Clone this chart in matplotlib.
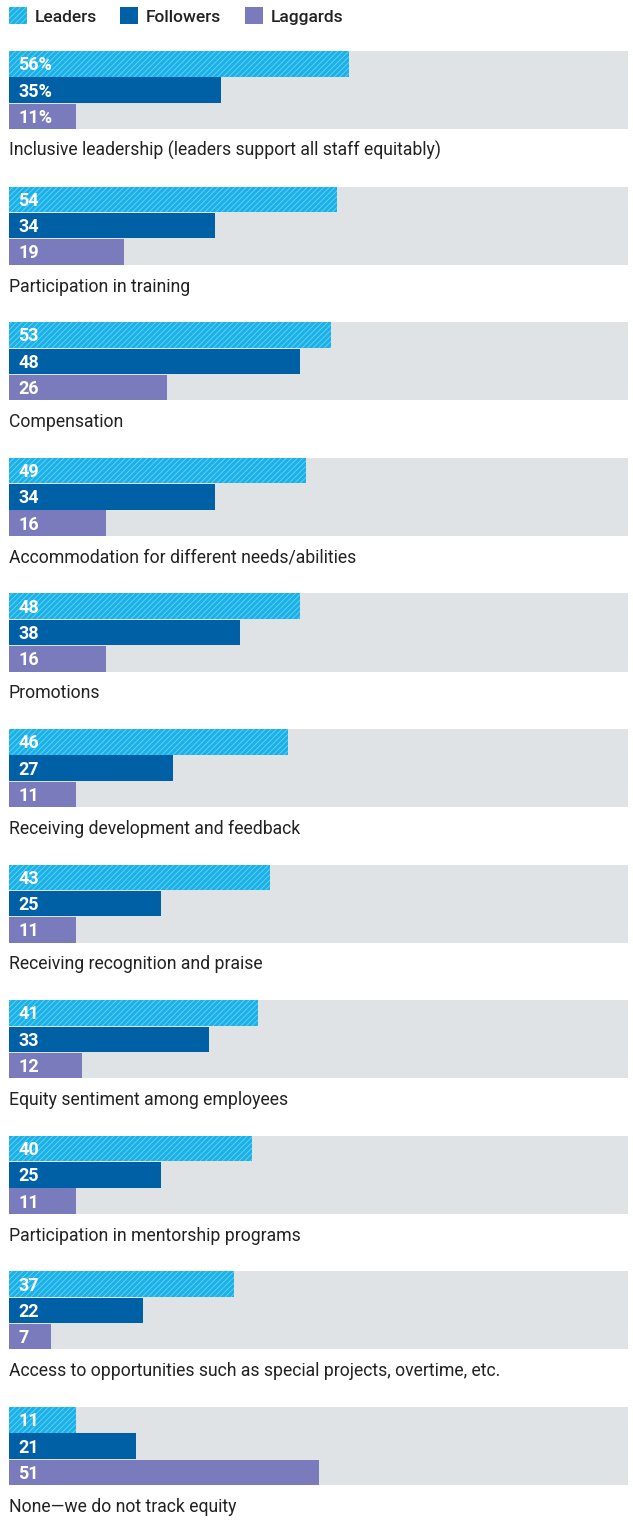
import matplotlib.pyplot as plt
from matplotlib.patches import Rectangle

categories = [
    "Inclusive leadership (leaders support all staff equitably)",
    "Participation in training",
    "Compensation",
    "Accommodation for different needs/abilities",
    "Promotions",
    "Receiving development and feedback",
    "Receiving recognition and praise",
    "Equity sentiment among employees",
    "Participation in mentorship programs",
    "Access to opportunities such as special projects, overtime, etc.",
    "None\u2014we do not track equity",
]
leaders = [56, 54, 53, 49, 48, 46, 43, 41, 40, 37, 11]
followers = [35, 34, 48, 34, 38, 27, 25, 33, 25, 22, 21]
laggards = [11, 19, 26, 16, 16, 11, 11, 12, 11, 7, 51]
series_names = ["Leaders", "Followers", "Laggards"]

c_lead = "#19b2e8"
c_hatch = "#6fd0f3"
c_follow = "#0060a6"
c_lag = "#7a7bbd"
c_bg = "#dfe3e6"

plt.rcParams['font.family'] = ['Roboto', 'DejaVu Sans']
plt.rcParams['hatch.linewidth'] = 0.6

W, H = 633, 1520
fig = plt.figure(figsize=(W / 100, H / 100), dpi=100)
ax = fig.add_axes([0, 0, 1, 1])
ppu = 6.07  # pixels per percentage point
x0 = 9
ax.set_xlim(-x0 / ppu, (W - x0) / ppu)
ax.set_ylim(H, 0)
ax.axis('off')

top0 = 51
pitch = 135.6
bh = 25.5
step = 26.3
bg_max = (628 - x0) / ppu

for i, cat in enumerate(categories):
    top = top0 + i * pitch
    ax.barh(top, bg_max, height=3 * step - 0.8, left=0, align='edge', color=c_bg, linewidth=0)
    vals = [leaders[i], followers[i], laggards[i]]
    cols = [c_lead, c_follow, c_lag]
    for j, (v, c) in enumerate(zip(vals, cols)):
        y = top + j * step
        if j == 0:
            ax.barh(y, v, height=bh, left=0, align='edge', color=c, edgecolor=c_hatch,
                    hatch='//////', linewidth=0)
        else:
            ax.barh(y, v, height=bh, left=0, align='edge', color=c, linewidth=0)
        lab = f"{v}%" if i == 0 else f"{v}"
        ax.text(9.5 / ppu, y + bh / 2 + 1.5, lab, color='white', fontsize=13,
                fontweight='bold', va='center', ha='left')
    ax.text(0, top + 3 * step + 21, cat, color='#222222', fontsize=12.7,
            va='center', ha='left')

# legend
leg_x = [9, 120, 245]
for name, c, lx in zip(series_names, [c_lead, c_follow, c_lag], leg_x):
    fig.patches.append(Rectangle((lx / W, 1 - 24 / H), 18 / W, 17 / H, transform=fig.transFigure,
                                 facecolor=c, edgecolor=c_hatch if c == c_lead else c,
                                 hatch='//////' if c == c_lead else None, linewidth=0))
    fig.text((lx + 26) / W, 1 - 17.5 / H, name, fontsize=12.5, fontweight='medium',
             color='#222222', va='center', ha='left')

fig.savefig('out.png', dpi=100)
